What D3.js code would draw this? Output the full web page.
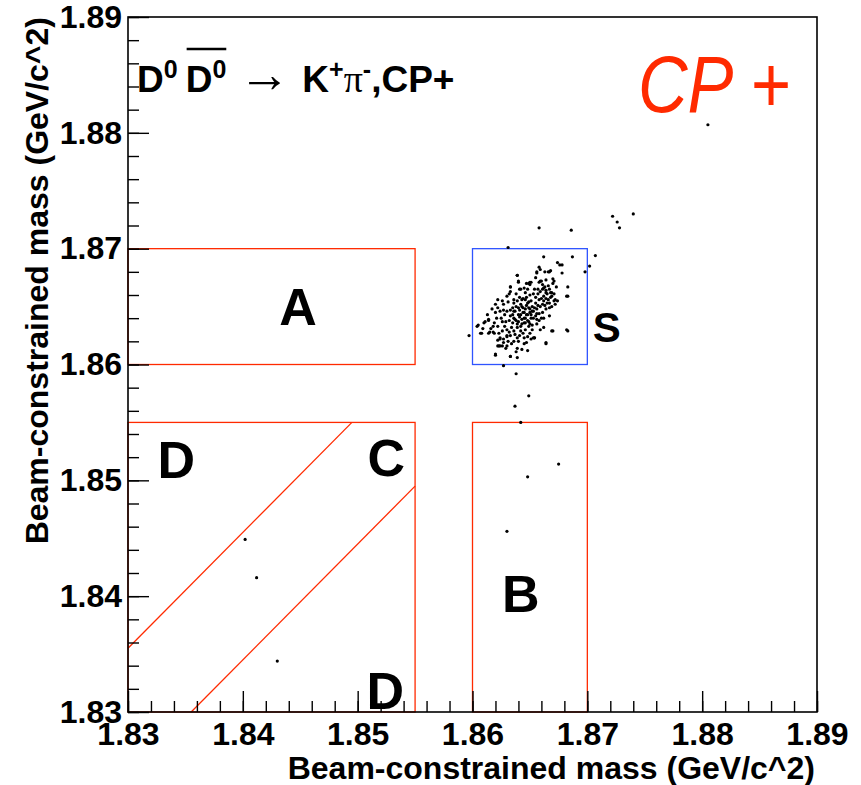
<!DOCTYPE html>
<html>
<head>
<meta charset="utf-8">
<script src="https://cdn.jsdelivr.net/npm/d3@7"></script>
<style>
  body { margin: 0; background: #fff; }
  text { font-family: "Liberation Sans", Arial, Helvetica, sans-serif; }
</style>
</head>
<body>
<svg id="chart"></svg>
<script>
// Mbc of candidate 1 (x) vs candidate 2 (y), GeV/c^2
const sidebandEvents = [
  [1.8805,1.8807],[1.8658,1.8718],[1.8686,1.8716],[1.8722,1.8728],[1.8740,1.8730],
  [1.8726,1.8723],[1.8728,1.8718],[1.8707,1.8694],[1.8702,1.8685],[1.8698,1.8680],
  [1.8631,1.8701],[1.8662,1.8693],[1.8687,1.8693],[1.8597,1.8625],[1.8627,1.8599],
  [1.8638,1.8592],[1.8649,1.8573],[1.8637,1.8564],[1.8642,1.8550],[1.8675,1.8514],
  [1.8648,1.8503],[1.8630,1.8456],[1.8402,1.8449],[1.8412,1.8416],[1.8430,1.8344]
];

const signalEvents = [
  [1.8683,1.8629],[1.8670,1.8629],[1.8654,1.8623],[1.8664,1.8619],[1.8647,1.8619],
  [1.8683,1.8659],[1.8683,1.8667],[1.8620,1.8609],[1.8633,1.8607],[1.8639,1.8606],
  [1.8638,1.8611],[1.8605,1.8634],[1.8608,1.8627],[1.8610,1.8636],[1.8614,1.8638],
  [1.8615,1.8628],[1.8618,1.8628],[1.8622,1.8621],[1.8624,1.8622],[1.8623,1.8616],
  [1.8626,1.8616],[1.8630,1.8616],[1.8630,1.8624],[1.8632,1.8628],
  [1.8639,1.8677],[1.8640,1.8672],[1.8647,1.8670],[1.8650,1.8671],[1.8633,1.8667],
  [1.8641,1.8665],[1.8632,1.8661],[1.8646,1.8662],[1.8622,1.8649],[1.8631,1.8654],
  [1.8636,1.8656],[1.8644,1.8657],[1.8649,1.8654],
  [1.8674,1.8688],[1.8676,1.8686],[1.8678,1.8686],[1.8658,1.8684],[1.8656,1.8680],
  [1.8663,1.8680],[1.8667,1.8680],[1.8678,1.8679],[1.8670,1.8674],[1.8671,1.8672],
  [1.8660,1.8672],[1.8658,1.8671],[1.8650,1.8669],
  [1.8639,1.8677],[1.8640,1.8671],[1.8649,1.8670],[1.8651,1.8671],[1.8659,1.8672],
  [1.8661,1.8669],[1.8662,1.8666],[1.8656,1.8679],[1.8659,1.8682],[1.8666,1.8680],
  [1.8668,1.8681],[1.8633,1.8667],[1.8633,1.8663],[1.8642,1.8665],[1.8645,1.8666],
  [1.8657,1.8665],[1.8659,1.8663],[1.8664,1.8664],[1.8667,1.8665],[1.8668,1.8662],
  [1.8669,1.8659],[1.8672,1.8656],[1.8674,1.8655],[1.8662,1.8659],[1.8665,1.8661],
  [1.8653,1.8661],[1.8655,1.8658],[1.8622,1.8656],[1.8630,1.8659],[1.8636,1.8653],
  [1.8639,1.8655],[1.8642,1.8652],[1.8646,1.8656],[1.8648,1.8653],[1.8651,1.8655],
  [1.8627,1.8652],[1.8617,1.8648],[1.8620,1.8645],[1.8624,1.8646],[1.8627,1.8647],
  [1.8630,1.8646],[1.8633,1.8647],[1.8636,1.8646],[1.8640,1.8649],[1.8643,1.8650],
  [1.8646,1.8648],[1.8649,1.8649],[1.8652,1.8650],[1.8653,1.8646],[1.8656,1.8648],
  [1.8642,1.8643],[1.8645,1.8645],[1.8648,1.8643],[1.8651,1.8643],[1.8655,1.8642],
  [1.8658,1.8644],[1.8661,1.8645],[1.8664,1.8648],[1.8667,1.8649],[1.8669,1.8650],
  [1.8665,1.8653],[1.8671,1.8655],[1.8661,1.8652],[1.8662,1.8640],[1.8667,1.8642],
  [1.8611,1.8637],[1.8614,1.8639],[1.8604,1.8633],[1.8607,1.8627],[1.8619,1.8636],
  [1.8622,1.8633],[1.8626,1.8637],[1.8629,1.8637],[1.8635,1.8636],[1.8637,1.8639],
  [1.8640,1.8637],[1.8643,1.8635],[1.8646,1.8636],[1.8649,1.8637],[1.8652,1.8634],
  [1.8656,1.8635],[1.8659,1.8630],[1.8662,1.8632],[1.8639,1.8632],[1.8642,1.8629],
  [1.8636,1.8629],[1.8630,1.8630],[1.8626,1.8629],[1.8623,1.8627],[1.8619,1.8627],
  [1.8614,1.8627],[1.8624,1.8623],[1.8627,1.8622],[1.8630,1.8625],[1.8633,1.8625],
  [1.8636,1.8620],[1.8639,1.8623],[1.8645,1.8623],[1.8648,1.8624],[1.8651,1.8622],
  [1.8653,1.8623],[1.8622,1.8616],[1.8624,1.8616],[1.8629,1.8614],[1.8639,1.8614],
  [1.8643,1.8613],[1.8648,1.8612],[1.8620,1.8608],[1.8633,1.8607],
  [1.8669,1.8629],[1.8682,1.8630],[1.8664,1.8618],[1.8682,1.8659],[1.8654,1.8623],
  [1.8643,1.8656],[1.8637,1.8646],[1.8640,1.8643],[1.8646,1.8640],[1.8643,1.8639],
  [1.8649,1.8633],[1.8639,1.8635],[1.8636,1.8640],[1.8652,1.8646],[1.8655,1.8653],
  [1.8658,1.8656],[1.8659,1.8650],[1.8662,1.8655],[1.8664,1.8657],[1.8668,1.8658],
  [1.8667,1.8653],[1.8664,1.8662],[1.8661,1.8665],[1.8666,1.8668],[1.8671,1.8661],
  [1.8672,1.8652],[1.8645,1.8640],[1.8651,1.8640],[1.8642,1.8633],[1.8646,1.8630],
  [1.8633,1.8642],
  [1.8638,1.8650],[1.8641,1.8647],[1.8644,1.8645],[1.8647,1.8643],[1.8650,1.8645],
  [1.8644,1.8649],[1.8647,1.8651],[1.8650,1.8648],[1.8641,1.8641],[1.8638,1.8638],
  [1.8635,1.8643],[1.8632,1.8638],[1.8645,1.8636],[1.8648,1.8638],[1.8650,1.8635],
  [1.8653,1.8640],[1.8656,1.8644],[1.8654,1.8649],[1.8657,1.8651],[1.8660,1.8657],
  [1.8663,1.8651],[1.8666,1.8656],[1.8669,1.8662],[1.8663,1.8667],[1.8657,1.8661],
  [1.8654,1.8665],[1.8650,1.8660],[1.8647,1.8658],[1.8641,1.8658],[1.8638,1.8661],
  [1.8635,1.8649],[1.8628,1.8643],[1.8625,1.8640],[1.8621,1.8640],[1.8618,1.8633],
  [1.8616,1.8631],[1.8628,1.8633],[1.8634,1.8632],[1.8637,1.8626],[1.8641,1.8625],
  [1.8644,1.8627],[1.8650,1.8627],[1.8640,1.8620],[1.8634,1.8618],[1.8627,1.8619],
  [1.8645,1.8618],[1.8652,1.8630],[1.8658,1.8638],[1.8660,1.8640],[1.8656,1.8639],
  [1.8673,1.8667],[1.8670,1.8670],[1.8664,1.8673],[1.8655,1.8675],[1.8648,1.8665],
  [1.8626,1.8655],[1.8620,1.8652],[1.8613,1.8643],[1.8609,1.8631],[1.8631,1.8620]
];

// signal / sideband boxes
const boxNames  = ["A", "S", "B", "CD"];
const boxX0     = [1.830, 1.860, 1.860, 1.830];
const boxX1     = [1.855, 1.870, 1.870, 1.855];
const boxY0     = [1.860, 1.860, 1.830, 1.830];
const boxY1     = [1.870, 1.870, 1.855, 1.855];
const boxColors = ["#ff2a00", "#2f54ff", "#ff2a00", "#ff2a00"];
const diagCut = 0.0055;   // |Mbc1 - Mbc2| cut separating C and D

const regionLabels = ["A", "S", "D", "C", "B", "D"];
const regionLabelX = [1.8448, 1.8717, 1.8342, 1.8525, 1.8642, 1.8524];
const regionLabelY = [1.8634, 1.8619, 1.8502, 1.8504, 1.8386, 1.8303];
const regionLabelSize = [52, 42, 52, 52, 52, 52];

const majorTicks = [1.83, 1.84, 1.85, 1.86, 1.87, 1.88, 1.89];

const W = 861, H = 785;
const mLeft = 128, mRight = 817, mTop = 17, mBottom = 712;

const svg = d3.select("#chart").attr("width", W).attr("height", H);
svg.append("rect").attr("width", W).attr("height", H).attr("fill", "#fff");

const x = d3.scaleLinear().domain([1.83, 1.89]).range([mLeft, mRight]);
const y = d3.scaleLinear().domain([1.83, 1.89]).range([mBottom, mTop]);

// boxes
boxNames.forEach((n, i) => {
  svg.append("rect")
    .attr("x", x(boxX0[i])).attr("y", y(boxY1[i]))
    .attr("width", x(boxX1[i]) - x(boxX0[i]))
    .attr("height", y(boxY0[i]) - y(boxY1[i]))
    .attr("fill", "none").attr("stroke", boxColors[i]).attr("stroke-width", 1.3);
});

// diagonal cuts inside C/D box
[[1.83, 1.855 - diagCut, diagCut], [1.83 + diagCut, 1.855, -diagCut]].forEach(([a, b, c]) => {
  svg.append("line")
    .attr("x1", x(a)).attr("y1", y(a + c))
    .attr("x2", x(b)).attr("y2", y(b + c))
    .attr("stroke", "#ff2a00").attr("stroke-width", 1.3);
});

// events
svg.append("g").selectAll("circle")
  .data(signalEvents.concat(sidebandEvents))
  .join("circle")
  .attr("cx", d => x(d[0])).attr("cy", d => y(d[1]))
  .attr("r", 1.6).attr("fill", "#000");

// axes
function styleAxis(g) {
  g.select(".domain").remove();
  g.selectAll(".tick line").attr("stroke", "#000").attr("stroke-width", 1.4);
  g.attr("font-family", '"Liberation Sans", Arial, sans-serif')
   .attr("font-size", 32).attr("font-weight", "bold");
  g.selectAll(".tick text").attr("fill", "#000");
}

svg.append("g").attr("transform", `translate(0,${mBottom})`)
  .call(d3.axisBottom(x).ticks(30).tickSize(-11).tickFormat(""))
  .call(styleAxis);
svg.append("g").attr("transform", `translate(0,${mBottom})`)
  .call(d3.axisBottom(x).tickValues(majorTicks).tickSize(-21).tickPadding(10).tickFormat(d3.format(".2f")))
  .call(styleAxis);

svg.append("g").attr("transform", `translate(${mLeft},0)`)
  .call(d3.axisLeft(y).ticks(30).tickSize(-11).tickFormat(""))
  .call(styleAxis);
svg.append("g").attr("transform", `translate(${mLeft},0)`)
  .call(d3.axisLeft(y).tickValues(majorTicks).tickSize(-21).tickPadding(6).tickFormat(d3.format(".2f")))
  .call(styleAxis);

// frame
svg.append("rect")
  .attr("x", mLeft).attr("y", mTop)
  .attr("width", mRight - mLeft).attr("height", mBottom - mTop)
  .attr("fill", "none").attr("stroke", "#000").attr("stroke-width", 1.6);

// region letters
regionLabels.forEach((t, i) => {
  svg.append("text")
    .attr("x", x(regionLabelX[i])).attr("y", y(regionLabelY[i]))
    .attr("text-anchor", "middle")
    .attr("font-size", regionLabelSize[i]).attr("font-weight", "bold")
    .text(t);
});

// axis titles
svg.append("text")
  .attr("x", 815).attr("y", 779)
  .attr("text-anchor", "end")
  .attr("font-size", 32).attr("font-weight", "bold")
  .text("Beam-constrained mass (GeV/c^2)");

svg.append("text")
  .attr("transform", "translate(48,17) rotate(-90)")
  .attr("text-anchor", "end")
  .attr("font-size", 32).attr("font-weight", "bold")
  .text("Beam-constrained mass (GeV/c^2)");

// title
const tg = svg.append("g").attr("transform", "translate(137,92)");
const title = tg.append("text").attr("font-size", 37).attr("font-weight", "bold");
title.append("tspan").text("D");
title.append("tspan").attr("font-size", 25).attr("dy", -14).text("0");
title.append("tspan").attr("dy", 14).attr("dx", 8).text("D");
title.append("tspan").attr("font-size", 25).attr("dy", -14).text("0");
title.append("tspan").attr("dy", 14).attr("dx", 12).attr("font-weight", "normal")
  .attr("font-family", '"Liberation Serif", serif').attr("font-size", 52).text("\u2192");
title.append("tspan").attr("dx", 12).text("K");
title.append("tspan").attr("font-size", 25).attr("dy", -14).text("+");
title.append("tspan").attr("dy", 14).attr("font-weight", "normal")
  .attr("font-family", '"Liberation Serif", serif').attr("font-size", 38).text("\u03c0");
title.append("tspan").attr("font-size", 25).attr("dy", -14).text("-");
title.append("tspan").attr("dy", 14).text(",CP+");

const tn = title.node();
const e2 = tn.getExtentOfChar(2), e3 = tn.getExtentOfChar(3);
tg.append("line")
  .attr("x1", e2.x + 1).attr("x2", e3.x + e3.width)
  .attr("y1", -43).attr("y2", -43)
  .attr("stroke", "#000").attr("stroke-width", 2.5);

// CP+ tag
svg.append("text")
  .attr("x", 638).attr("y", 112)
  .attr("font-size", 80).attr("font-style", "italic")
  .attr("fill", "#ff2a00")
  .attr("textLength", 152).attr("lengthAdjust", "spacingAndGlyphs")
  .text("CP +");
</script>
</body>
</html>
